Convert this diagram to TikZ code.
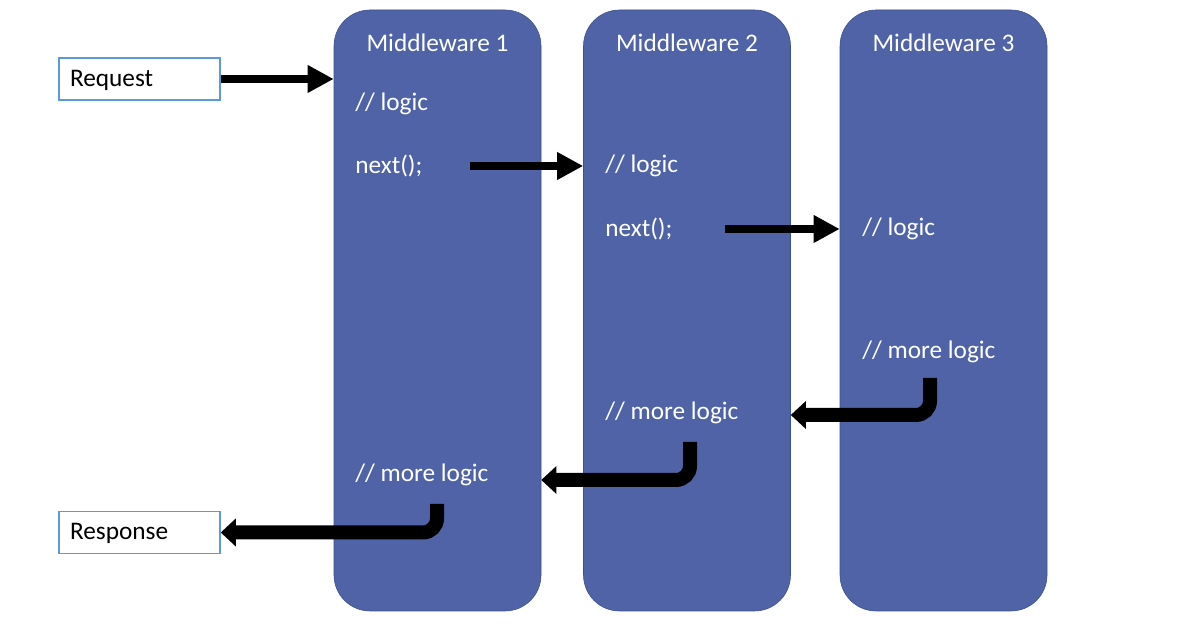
\documentclass[tikz,border=0pt]{standalone}
\usepackage{fontspec}
\setmainfont{Carlito}
\usetikzlibrary{arrows.meta}
\definecolor{mwblue}{RGB}{79,99,166}
\definecolor{mwedge}{RGB}{62,80,140}
\definecolor{ioline}{RGB}{91,155,213}

\begin{document}
\begin{tikzpicture}[font=\fontsize{18}{22}\selectfont,
  mw/.style={draw=mwedge, fill=mwblue, rounded corners=0.9cm, minimum width=5.175cm, minimum height=15.025cm},
  io/.style={draw=ioline, line width=1pt, fill=white, minimum width=4.025cm, minimum height=1.05cm, text width=3.475cm, inner xsep=0.275cm, align=left, text height=0.52cm, text depth=0.16cm},
  title/.style={text=white, yshift=-0.05cm},
  txt/.style={text=white, anchor=west, inner sep=0pt, yshift=-0.05cm},
  call/.style={line width=0.2cm, -{Triangle[width=0.65cm,length=0.65cm]}},
  back/.style={line width=0.35cm, rounded corners=0.35cm, -{Triangle[width=0.68cm,length=0.38cm]}}]
\fill[white] (0,0) rectangle (29.6,15.625);
\useasboundingbox (0,0) rectangle (29.6,15.625);
% the three middlewares
\node[mw] (m1) at (10.9375,7.8625) {};
\node[mw] (m2) at (17.175,7.8625) {};
\node[mw] (m3) at (23.5875,7.8625) {};
\node[title] (t1) at (10.9375,14.6) {Middleware 1};
\node[title] (t2) at (17.175,14.6) {Middleware 2};
\node[title] (t3) at (23.5875,14.6) {Middleware 3};
% request and response
\node[io] (req) at (3.4875,13.65) {Request};
\node[io] (resp) at (3.4875,2.3125) {Response};
% code lines
\node[txt] (l1) at (8.875,13.075) {// logic};
\node[txt] (n1) at (8.875,11.525) {next();};
\node[txt] (ml1) at (8.875,3.8) {// more logic};
\node[txt] (l2) at (15.125,11.525) {// logic};
\node[txt] (n2) at (15.125,9.95) {next();};
\node[txt] (ml2) at (15.125,5.35) {// more logic};
\node[txt] (l3) at (21.55,9.95) {// logic};
\node[txt] (ml3) at (21.55,6.875) {// more logic};
% going in
\draw[call] (req.east) -- (req.east -| m1.west);
\draw[call] ([xshift=1.175cm]n1.east) -- (n1.east -| m2.west);
\draw[call] ([xshift=1.3cm]n2.east) -- (n2.east -| m3.west);
% coming back
\draw[back] ([xshift=1.7cm,yshift=-0.65cm]ml3.west) |- ([yshift=-0.05cm]ml2.west -| m2.east);
\draw[back] ([xshift=2.125cm,yshift=-0.725cm]ml2.west) |- ([yshift=-0.125cm]ml1.west -| m1.east);
\draw[back] ([xshift=2.05cm,yshift=-0.725cm]ml1.west) |- (resp.east);
\end{tikzpicture}
\end{document}
